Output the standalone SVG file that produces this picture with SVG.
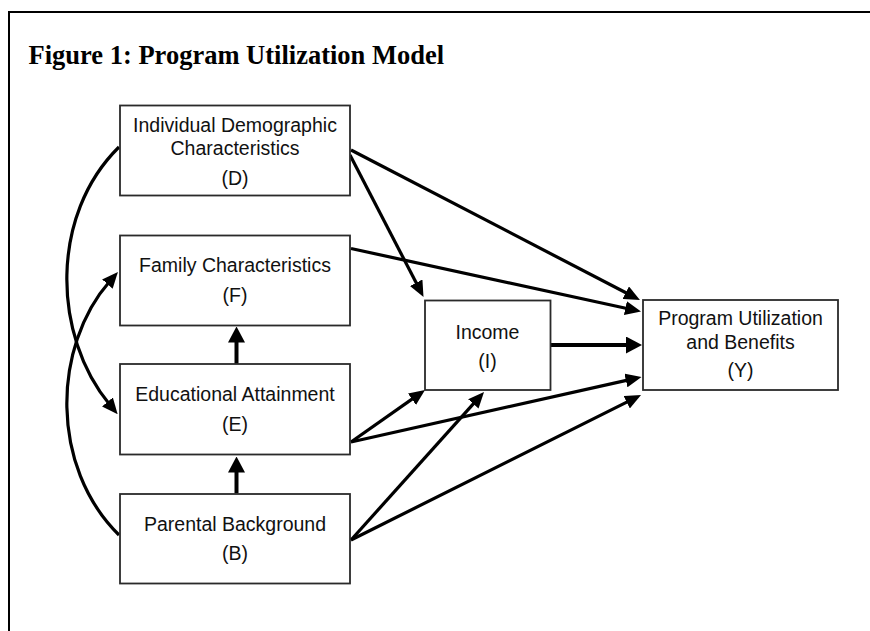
<svg xmlns="http://www.w3.org/2000/svg" width="870" height="631" viewBox="0 0 870 631">
<style>
.box{fill:#fff;stroke:#2a2a2a;stroke-width:1.8}
.lbl{font-family:"Liberation Sans",Arial,sans-serif;font-size:19.5px;fill:#111;text-anchor:middle}
.title{font-family:"Liberation Serif","Times New Roman",serif;font-size:26.5px;font-weight:bold;fill:#000}
.c{fill:none;stroke:#000;stroke-width:3.2;marker-end:url(#ah)}
.t{fill:none;stroke:#000;stroke-width:4;marker-end:url(#ahb)}
</style>
<defs>
<marker id="ah" markerUnits="userSpaceOnUse" viewBox="0 0 16 14" markerWidth="16" markerHeight="14" refX="4" refY="7" orient="auto">
<path d="M0,0 L16,7 L0,14 z" fill="#000"/>
</marker>
<marker id="ahb" markerUnits="userSpaceOnUse" viewBox="0 0 16 17" markerWidth="16" markerHeight="17" refX="2" refY="8.5" orient="auto">
<path d="M0,0 L16,8.5 L0,17 z" fill="#000"/>
</marker>
</defs>
<rect width="870" height="631" fill="#fff"/>
<path d="M9,631 V12 H870" fill="none" stroke="#000" stroke-width="2"/>
<text class="title" x="28.5" y="63.5">Figure 1: Program Utilization Model</text>

<g id="connectors">
<path class="c" d="M119,147 C50,215 52,335 110,405"/>
<path class="c" d="M119,535 C50,467 52,347 110,281"/>
<path class="c" d="M351,150 L629.3,294.5"/>
<path class="c" d="M350,155 L418,286.3"/>
<path class="c" d="M351,248.5 L629.3,309"/>
<path class="c" d="M351,442 L415.2,396.9"/>
<path class="c" d="M351,442 L629.8,379.6"/>
<path class="c" d="M351,540 L476,400.9"/>
<path class="c" d="M351,540 L630.3,400.4"/>
<path class="t" d="M551,345 L628,345"/>
<path class="t" d="M236.5,364 L236.5,340.5"/>
<path class="t" d="M236.5,493.5 L236.5,470.5"/>
</g>

<g id="node-D">
<rect class="box" x="120" y="105.5" width="230" height="90"/>
<text class="lbl" x="235" y="132">Individual Demographic</text>
<text class="lbl" x="235" y="155">Characteristics</text>
<text class="lbl" x="235" y="185">(D)</text>
</g>
<g id="node-F">
<rect class="box" x="120" y="235.5" width="230" height="90"/>
<text class="lbl" x="235" y="272">Family Characteristics</text>
<text class="lbl" x="235" y="302">(F)</text>
</g>
<g id="node-E">
<rect class="box" x="120" y="364" width="230" height="90.5"/>
<text class="lbl" x="235" y="401">Educational Attainment</text>
<text class="lbl" x="235" y="431">(E)</text>
</g>
<g id="node-B">
<rect class="box" x="120" y="494" width="230" height="89.5"/>
<text class="lbl" x="235" y="531">Parental Background</text>
<text class="lbl" x="235" y="560">(B)</text>
</g>
<g id="node-I">
<rect class="box" x="425" y="300.5" width="125.5" height="89.5"/>
<text class="lbl" x="487.5" y="339">Income</text>
<text class="lbl" x="487.5" y="368">(I)</text>
</g>
<g id="node-Y">
<rect class="box" x="643" y="300" width="195" height="90"/>
<text class="lbl" x="740.5" y="324.5">Program Utilization</text>
<text class="lbl" x="740.5" y="348.5">and Benefits</text>
<text class="lbl" x="740.5" y="377">(Y)</text>
</g>
</svg>
